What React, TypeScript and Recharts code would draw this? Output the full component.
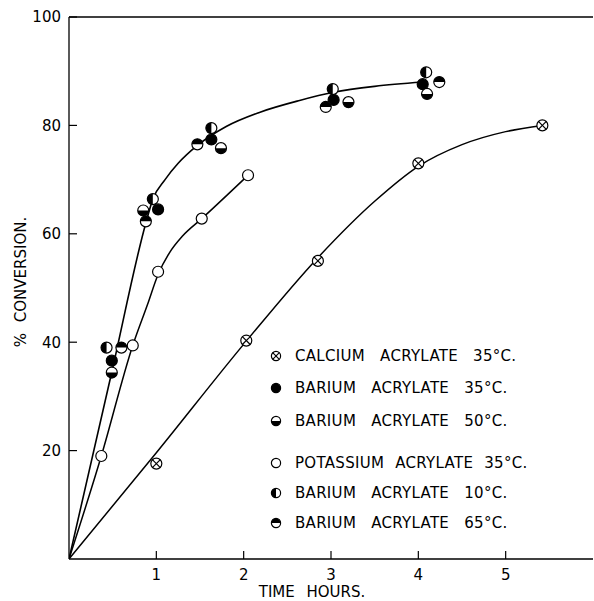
import React from 'react';
import { ComposedChart, Line, Scatter, XAxis, YAxis, ReferenceLine, Legend, Label } from 'recharts';

// ---- ticks ----
const xTicks = [1, 2, 3, 4, 5];
const yTicks = [20, 40, 60, 80, 100];

// ---- measured points (time h, % conversion) ----
const calcium35 = [
  { x: 1.0, y: 17.6 },
  { x: 2.03, y: 40.3 },
  { x: 2.85, y: 55.0 },
  { x: 4.0, y: 73.0 },
  { x: 5.42, y: 80.0 },
];
const barium35 = [
  { x: 0.49, y: 36.6 },
  { x: 1.02, y: 64.5 },
  { x: 1.63, y: 77.4 },
  { x: 3.03, y: 84.7 },
  { x: 4.05, y: 87.6 },
];
const barium50 = [
  { x: 0.49, y: 34.4 },
  { x: 0.85, y: 64.3 },
  { x: 1.74, y: 75.8 },
  { x: 3.2, y: 84.3 },
  { x: 4.1, y: 85.8 },
];
const potassium35 = [
  { x: 0.37, y: 19.0 },
  { x: 0.73, y: 39.4 },
  { x: 1.02, y: 53.0 },
  { x: 1.52, y: 62.8 },
  { x: 2.05, y: 70.8 },
];
const barium10 = [
  { x: 0.43, y: 39.0 },
  { x: 0.96, y: 66.4 },
  { x: 1.63, y: 79.5 },
  { x: 3.02, y: 86.7 },
  { x: 4.09, y: 89.8 },
];
const barium65 = [
  { x: 0.6, y: 39.0 },
  { x: 0.88, y: 62.3 },
  { x: 1.47, y: 76.5 },
  { x: 2.94, y: 83.4 },
  { x: 4.24, y: 88.0 },
];

// ---- smooth curves as drawn in the figure ----
const calciumCurve = [
  { x: 0, y: 0 },
  { x: 1.0, y: 19.6 },
  { x: 2.03, y: 40.2 },
  { x: 2.85, y: 55.6 },
  { x: 3.5, y: 66.0 },
  { x: 4.0, y: 72.45 },
  { x: 4.5, y: 76.45 },
  { x: 5.0, y: 78.85 },
  { x: 5.42, y: 80.0 },
];
const potassiumCurve = [
  { x: 0, y: 0 },
  { x: 0.37, y: 19.0 },
  { x: 0.73, y: 39.4 },
  { x: 0.9, y: 47.0 },
  { x: 1.02, y: 52.5 },
  { x: 1.15, y: 56.5 },
  { x: 1.3, y: 59.6 },
  { x: 1.52, y: 62.8 },
  { x: 2.05, y: 70.8 },
];
const bariumCurve = [
  { x: 0, y: 0 },
  { x: 0.49, y: 34.5 },
  { x: 0.88, y: 62.0 },
  { x: 0.96, y: 66.4 },
  { x: 1.1, y: 70.0 },
  { x: 1.25, y: 73.0 },
  { x: 1.47, y: 76.3 },
  { x: 1.8, y: 79.8 },
  { x: 2.18, y: 82.4 },
  { x: 2.64, y: 84.6 },
  { x: 3.03, y: 86.1 },
  { x: 3.5, y: 87.2 },
  { x: 4.05, y: 88.0 },
];

// ---- legend ----
const legendLabels = [
  'CALCIUM ACRYLATE 35°C.',
  'BARIUM ACRYLATE 35°C.',
  'BARIUM ACRYLATE 50°C.',
  'POTASSIUM ACRYLATE 35°C.',
  'BARIUM ACRYLATE 10°C.',
  'BARIUM ACRYLATE 65°C.',
];
const legendKinds = ['cross', 'filled', 'bottom', 'open', 'left', 'top'];

const FONT = '"DejaVu Sans", "Liberation Sans", sans-serif';
const legendRowTop = [356, 388, 421, 463, 493, 523];
const legendWordSpacing = [10, 10, 10, 6, 10, 10];

function Marker({ cx, cy, kind, r }: { cx: number; cy: number; kind: string; r: number }) {
  const sw = 1.2;
  const k = r * 0.72;
  if (kind === 'filled') {
    return <circle cx={cx} cy={cy} r={r} fill="#000" stroke="#000" strokeWidth={sw} />;
  }
  if (kind === 'open') {
    return <circle cx={cx} cy={cy} r={r} fill="#fff" stroke="#000" strokeWidth={sw} />;
  }
  if (kind === 'cross') {
    return (
      <g>
        <circle cx={cx} cy={cy} r={r} fill="#fff" stroke="#000" strokeWidth={sw} />
        <line x1={cx - k} y1={cy - k} x2={cx + k} y2={cy + k} stroke="#000" strokeWidth={sw} />
        <line x1={cx - k} y1={cy + k} x2={cx + k} y2={cy - k} stroke="#000" strokeWidth={sw} />
      </g>
    );
  }
  let d = '';
  if (kind === 'bottom') d = `M${cx - r},${cy} A${r},${r} 0 0 0 ${cx + r},${cy} Z`;
  if (kind === 'top') d = `M${cx - r},${cy} A${r},${r} 0 0 1 ${cx + r},${cy} Z`;
  if (kind === 'left') d = `M${cx},${cy - r} A${r},${r} 0 0 0 ${cx},${cy + r} Z`;
  return (
    <g>
      <circle cx={cx} cy={cy} r={r} fill="#fff" />
      <path d={d} fill="#000" />
      <circle cx={cx} cy={cy} r={r} fill="none" stroke="#000" strokeWidth={sw} />
    </g>
  );
}

const shapeOf = (kind: string) => (p: any) =>
  p && typeof p.cx === 'number' ? <Marker cx={p.cx} cy={p.cy} kind={kind} r={5.5} /> : <g />;

// inward tick marks with outside labels
const XTick = (p: any) => {
  const { x, y, payload } = p;
  return (
    <g>
      <line x1={x} y1={y - 8} x2={x} y2={y - 16} stroke="#000" strokeWidth={1.2} />
      <text x={x} y={y} dy="0.85em" textAnchor="middle" fill="#000" fontSize={15} fontFamily={FONT}>
        {payload.value}
      </text>
    </g>
  );
};
const YTick = (p: any) => {
  const { x, y, payload } = p;
  return (
    <g>
      <line x1={x + 8} y1={y} x2={x + 16} y2={y} stroke="#000" strokeWidth={1.2} />
      <text x={x} y={y} dy="0.36em" textAnchor="end" fill="#000" fontSize={15} fontFamily={FONT}>
        {payload.value}
      </text>
    </g>
  );
};

const LEG_LEFT = 268;
const LEG_TOP = 340;

function LegendContent() {
  return (
    <div style={{ position: 'relative', width: 300, height: 200, fontFamily: FONT }}>
      {legendLabels.map((label, i) => (
        <div
          key={label}
          style={{
            position: 'absolute',
            left: 0,
            top: legendRowTop[i] - LEG_TOP - 10,
            height: 20,
            display: 'flex',
            alignItems: 'center',
            whiteSpace: 'nowrap',
          }}
        >
          <svg width={16} height={16} style={{ display: 'block' }}>
            <Marker cx={8} cy={8} kind={legendKinds[i]} r={4.6} />
          </svg>
          <span
            style={{
              marginLeft: 11,
              fontSize: 15,
              color: '#000',
              wordSpacing: legendWordSpacing[i],
              letterSpacing: 0.3,
            }}
          >
            {label}
          </span>
        </div>
      ))}
    </div>
  );
}

export default function App() {
  return (
    <div style={{ position: 'absolute', left: 0, top: 0, width: 594, height: 601, background: '#fff' }}>
      <ComposedChart
        width={594}
        height={601}
        margin={{ top: 17, right: 1, left: 9, bottom: 12 }}
        style={{ fontFamily: FONT }}
      >
        <XAxis
          dataKey="x"
          type="number"
          domain={[0, 6]}
          ticks={xTicks}
          allowDataOverflow
          height={30}
          tickSize={0}
          tickMargin={8}
          tickLine={false}
          axisLine={{ stroke: '#000', strokeWidth: 1.3 }}
          tick={<XTick />}
        >
          <Label
            content={(props: any) => {
              const vb = props.viewBox || { x: 69, y: 559, width: 524 };
              return (
                <text
                  x={vb.x + vb.width / 2 - 19}
                  y={vb.y + 38}
                  textAnchor="middle"
                  fill="#000"
                  fontSize={15}
                  fontFamily={FONT}
                  style={{ wordSpacing: 7 }}
                >
                  TIME HOURS.
                </text>
              );
            }}
          />
        </XAxis>
        <YAxis
          dataKey="y"
          type="number"
          domain={[0, 100]}
          ticks={yTicks}
          allowDataOverflow
          width={60}
          tickSize={0}
          tickMargin={8}
          tickLine={false}
          axisLine={{ stroke: '#000', strokeWidth: 1.3 }}
          tick={<YTick />}
        >
          <Label
            content={(props: any) => {
              const vb = props.viewBox || { x: 9, y: 17, width: 60, height: 542 };
              const cx = vb.x + 12;
              const cy = vb.y + vb.height / 2 - 6;
              return (
                <text
                  x={cx}
                  y={cy}
                  transform={`rotate(-90 ${cx} ${cy})`}
                  textAnchor="middle"
                  dominantBaseline="central"
                  fill="#000"
                  fontSize={15}
                  fontFamily={FONT}
                  style={{ wordSpacing: 6 }}
                >
                  % CONVERSION.
                </text>
              );
            }}
          />
        </YAxis>
        <ReferenceLine y={100} stroke="#000" strokeWidth={1.3} />

        <Line data={calciumCurve} dataKey="y" type="monotone" stroke="#000" strokeWidth={1.5} dot={false} isAnimationActive={false} legendType="none" />
        <Line data={potassiumCurve} dataKey="y" type="monotone" stroke="#000" strokeWidth={1.5} dot={false} isAnimationActive={false} legendType="none" />
        <Line data={bariumCurve} dataKey="y" type="monotone" stroke="#000" strokeWidth={1.6} dot={false} isAnimationActive={false} legendType="none" />

        <Scatter name="CALCIUM ACRYLATE 35°C." data={calcium35} dataKey="y" shape={shapeOf('cross')} isAnimationActive={false} />
        <Scatter name="BARIUM ACRYLATE 35°C." data={barium35} dataKey="y" shape={shapeOf('filled')} isAnimationActive={false} />
        <Scatter name="BARIUM ACRYLATE 50°C." data={barium50} dataKey="y" shape={shapeOf('bottom')} isAnimationActive={false} />
        <Scatter name="POTASSIUM ACRYLATE 35°C." data={potassium35} dataKey="y" shape={shapeOf('open')} isAnimationActive={false} />
        <Scatter name="BARIUM ACRYLATE 10°C." data={barium10} dataKey="y" shape={shapeOf('left')} isAnimationActive={false} />
        <Scatter name="BARIUM ACRYLATE 65°C." data={barium65} dataKey="y" shape={shapeOf('top')} isAnimationActive={false} />

        <Legend
          layout="vertical"
          align="center"
          verticalAlign="middle"
          content={() => <LegendContent />}
          wrapperStyle={{ position: 'absolute', left: LEG_LEFT, top: LEG_TOP, width: 320, height: 200 }}
        />
      </ComposedChart>
    </div>
  );
}
